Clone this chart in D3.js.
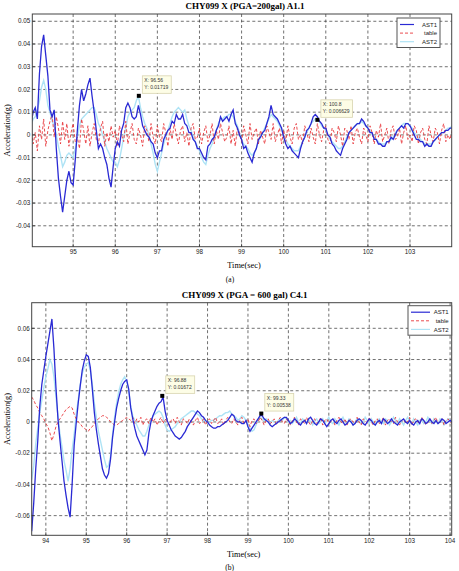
<!DOCTYPE html>
<html>
<head>
<meta charset="utf-8">
<script src="https://cdn.jsdelivr.net/npm/d3@7"></script>
<style>
  body { margin: 0; background: #fff; }
  svg { display: block; }
</style>
</head>
<body>
<svg id="fig" width="459" height="571"></svg>
<script>
// values are in milli-g, one sample every 0.05 s
const MG = 0.001;
const seriesNames = ["AST1", "table", "AST2"];
const seriesColors = { AST1: "#2a2ad4", table: "#e8383c", AST2: "#aee3f5" };

// ---- panel (a) ----
const aTitle = "CHY099 X (PGA=200gal) A1.1";
const aStart = 94.0, aStep = 0.05;
const aXDomain = [94.03, 103.99];
const aYDomain = [-0.0492, 0.0532];
const aXTicks = [95, 96, 97, 98, 99, 100, 101, 102, 103];
const aYTicks = [-0.04, -0.03, -0.02, -0.01, 0, 0.01, 0.02, 0.03, 0.04, 0.05];
const aYTickLabels = ["-0.04", "-0.03", "-0.02", "-0.01", "0", "0.01", "0.02", "0.03", "0.04", "0.05"];
const aAST1 = [
  5,10,12,7,27,39,44,35,26,11,8,11,-6,-19,-27,-34,-27,-20,-16,-21,
  -22,-11,2,13,20,15,18,22,25,17,10,2,-6,-4,-6,-10,-13,-19,-23,-14,
  -6,-3,-5,2,5,12,14,12,8,7,8,13,9,4,2,0,-1,-3,-4,-8,
  -10,-7,-7,-2,0,2,3,6,5,9,7,7,9,5,4,1,1,-2,-3,-6,
  -6,-8,-10,-11,-5,-4,-2,-1,2,4,8,6,7,8,6,9,11,5,3,0,
  -2,-6,-5,-8,-10,-12,-8,-6,-2,-1,1,2,5,8,13,9,8,7,5,3,
  -1,-4,-6,-5,-7,-8,-9,-10,-6,-3,-1,2,3,5,8,9,8,6,5,3,
  3,0,-1,-4,-5,-7,-8,-9,-6,-4,-2,1,2,3,4,5,5,7,6,4,
  3,1,1,-2,-2,-4,-4,-5,-5,-3,-3,-1,-2,0,2,3,4,3,5,5,
  4,2,0,-2,-2,-3,-3,-5,-4,-5,-5,-3,-2,-1,0,1,1,2,2,3,
  3
];
const aTable = [
  3,-4,1,-7,4,-2,7,-5,2,6,9,-1,8,3,-4,6,-2,5,-5,1,
  5,-3,-1,-6,7,2,-4,4,-5,1,5,-2,-4,3,6,-5,1,-3,4,-1,
  2,-5,4,0,-3,6,-4,1,5,-2,-4,3,0,-5,4,2,-3,5,-1,-4,
  4,-1,-3,5,1,-5,3,-2,5,0,-4,2,4,-3,1,-5,3,5,-2,-1,
  3,-4,1,4,-3,0,5,-4,2,-2,5,1,-3,-1,4,-4,2,-5,3,1,
  -3,4,0,-4,5,-2,1,3,-4,2,-1,-4,4,1,-2,5,-3,0,3,-4,
  2,-3,4,-1,-4,3,5,-2,0,-4,4,1,-3,3,-1,-4,5,0,-3,2,
  4,-2,-4,3,1,-3,4,0,-5,3,2,-2,4,-4,1,3,-1,-4,3,0,
  -3,4,1,-4,2,-1,5,-3,0,3,-4,2,4,-2,-1,3,-4,1,4,-2,
  0,-3,4,2,-4,1,3,-2,-4,4,0,-3,3,1,-4,2,5,-3,0,-2,
  2
];
const aAST2 = [
  4,7,8,11,15,21,24,20,13,10,6,4,0,-5,-9,-14,-12,-9,-8,-9,
  -10,-6,-1,4,7,8,9,10,11,12,12,9,5,3,0,-3,-6,-8,-10,-12,
  -12,-14,-11,-6,-1,3,8,10,11,12,15,17,12,8,5,3,0,-4,-8,-13,
  -16,-12,-8,-4,-1,2,5,8,10,11,12,11,10,11,7,4,2,-1,-3,-5,
  -7,-10,-12,-13,-9,-6,-4,-1,2,5,7,7,8,8,9,9,8,6,4,1,
  -2,-4,-5,-6,-8,-9,-8,-6,-3,-1,1,3,5,7,9,8,7,6,4,2,
  0,-2,-4,-5,-6,-7,-7,-7,-5,-3,-1,1,3,5,6,7,7,6,4,3,
  2,0,-2,-3,-4,-5,-6,-6,-5,-3,-1,1,2,3,4,5,5,6,5,4,
  3,2,0,-1,-2,-3,-4,-4,-4,-3,-3,-2,-1,1,2,3,4,5,5,5,
  4,3,1,0,-1,-2,-3,-4,-4,-4,-4,-3,-2,-1,0,1,1,2,3,3,
  4
];
const aTipX = [96.56, 100.8];
const aTipY = [0.01719, 0.006629];
const aTipText = [["X: 96.56", "Y: 0.01719"], ["X: 100.8", "Y: 0.006629"]];

// ---- panel (b) ----
const bTitle = "CHY099 X (PGA = 600 gal) C4.1";
const bStart = 93.65, bStep = 0.05;
const bXDomain = [93.65, 104.04];
const bYDomain = [-0.0726, 0.0764];
const bXTicks = [94, 95, 96, 97, 98, 99, 100, 101, 102, 103, 104];
const bYTicks = [-0.06, -0.04, -0.02, 0, 0.02, 0.04, 0.06];
const bYTickLabels = ["-0.06", "-0.04", "-0.02", "0", "0.02", "0.04", "0.06"];
const bAST1 = [
  -70,-52,-30,-12,10,24,33,42,50,58,
  66,47,22,2,-12,-25,-38,-47,-55,-61,
  -40,-15,-1,12,23,33,39,43,42,35,
  21,6,-5,-14,-22,-30,-34,-36,-33,-24,
  -10,0,9,15,20,24,26,27,21,9,
  2,-4,-9,-12,-15,-18,-21,-18,-7,0,
  4,7,10,12,13,16,7,1,-2,-5,
  -7,-9,-10,-11,-10,-8,-6,-3,-1,1,
  3,5,7,6,4,3,1,0,-2,-3,
  -4,-4,-3,-3,-2,-1,0,1,3,5,
  4,1,0,0,-1,-1,1,-3,-6,-4,
  -2,0,2,4,4,2,1,0,-2,-3,
  -2,-1,0,1,2,3,3,1,-1,0,
  2,1,-1,-2,0,1,-1,2,3,1,
  -1,-2,0,2,1,-1,-3,-1,1,2,
  0,-1,1,2,0,-2,-1,1,0,-2,
  -1,1,2,1,-1,-2,0,2,1,-1,
  -2,0,1,-1,2,1,-1,0,2,0,
  -1,-2,0,1,2,0,-1,1,-1,-2,
  0,1,-1,2,1,-1,0,2,0,-1,
  1,-1,0,2,1,-1,0,1,0
];
const bTable = [
  16,14,11,9,6,4,2,-1,-3,-7,
  -12,-8,-3,0,2,4,6,8,9,10,
  9,5,2,0,-1,-3,-4,-5,-6,-4,
  -3,-1,1,2,3,4,4,3,2,0,
  -1,-2,-2,-1,0,1,2,3,2,1,
  3,-1,2,0,3,-2,1,2,-1,3,
  0,2,-2,1,3,-1,2,0,-2,1,
  2,-1,3,0,-2,2,1,-1,2,0,
  -2,1,3,-1,0,2,-2,1,2,-1,
  1,3,-1,0,2,-2,1,3,0,-1,
  2,0,-2,1,3,-1,0,2,-3,1,
  2,-1,0,3,1,-2,1,2,-1,0,
  2,-2,1,3,0,-1,2,0,-2,1,
  3,0,-2,2,1,-1,3,0,-2,1,
  2,-1,0,3,-2,1,2,-1,0,2,
  -2,1,3,0,-1,2,-2,1,2,0,
  -1,3,0,-2,2,1,-1,3,0,-2,
  1,2,-1,0,3,-2,1,2,0,-1,
  3,0,-2,1,2,-1,0,3,-2,1,
  2,0,-1,3,1,-2,0,2,-1,1,
  3,-1,0,2,-2,1,2,0,-1
];
const bAST2 = [
  -37,-28,-14,-4,6,14,22,29,34,40,
  37,29,16,4,-8,-16,-25,-31,-38,-30,
  -18,-8,5,14,24,31,35,37,38,33,
  24,12,3,-6,-12,-18,-24,-29,-28,-22,
  -8,3,12,19,24,27,29,26,20,10,
  4,1,-2,-5,-7,-9,-9,-6,-2,1,
  4,5,6,7,6,3,-2,-5,-6,-5,
  -4,-3,-1,0,2,3,4,5,6,7,
  7,6,5,4,2,1,0,-1,0,1,
  1,2,3,4,4,5,6,6,7,5,
  4,3,1,2,4,3,1,-2,-4,-6,
  -5,-2,1,3,2,1,2,0,-1,1,
  0,-1,1,2,1,3,2,0,1,-1,
  1,3,0,-1,2,1,-1,2,0,-2,
  1,2,-1,0,2,-1,1,3,0,-1,
  2,0,-2,1,3,0,-1,2,1,-2,
  0,2,1,-1,0,3,1,-1,2,0,
  -2,1,2,0,-1,2,1,-2,0,3,
  1,-1,2,0,-2,1,3,0,-1,2,
  0,-2,1,2,-1,0,3,1,-1,2,
  0,-1,2,1,-2,0,2,1,0
];
const bTipX = [96.88, 99.33];
const bTipY = [0.01672, 0.00538];
const bTipText = [["X: 96.88", "Y: 0.01672"], ["X: 99.33", "Y: 0.00538"]];

const svg = d3.select("#fig");

const drawPanel = (p) => {
  const g = svg.append("g");
  const x = d3.scaleLinear().domain(p.xDomain).range([p.left, p.right]);
  const y = d3.scaleLinear().domain(p.yDomain).range([p.bottom, p.top]);

  // clip
  const clipId = "clip" + p.id;
  svg.append("clipPath").attr("id", clipId)
    .append("rect")
    .attr("x", p.left).attr("y", p.top)
    .attr("width", p.right - p.left).attr("height", p.bottom - p.top);

  // grid
  g.selectAll(".gx").data(p.xTicks).enter().append("line")
    .attr("x1", d => x(d)).attr("x2", d => x(d))
    .attr("y1", p.top).attr("y2", p.bottom)
    .attr("stroke", "#333").attr("stroke-width", 0.7)
    .attr("stroke-dasharray", "3,2.5");
  g.selectAll(".gy").data(p.yTicks).enter().append("line")
    .attr("x1", p.left).attr("x2", p.right)
    .attr("y1", d => y(d)).attr("y2", d => y(d))
    .attr("stroke", "#333").attr("stroke-width", 0.7)
    .attr("stroke-dasharray", "3,2.5");

  // traces
  const mkLine = (start, step) => d3.line()
    .x((d, i) => x(start + i * step))
    .y(d => y(d * MG));
  const traces = g.append("g").attr("clip-path", "url(#" + clipId + ")");
  traces.append("path").datum(p.AST2)
    .attr("d", mkLine(p.start, p.step))
    .attr("fill", "none").attr("stroke", seriesColors.AST2).attr("stroke-width", 1.4);
  traces.append("path").datum(p.table)
    .attr("d", mkLine(p.start, p.step))
    .attr("fill", "none").attr("stroke", seriesColors.table).attr("stroke-width", 0.9)
    .attr("stroke-dasharray", "3,2");
  traces.append("path").datum(p.AST1)
    .attr("d", mkLine(p.start, p.step))
    .attr("fill", "none").attr("stroke", seriesColors.AST1).attr("stroke-width", 1.3);

  // axes box
  g.append("rect")
    .attr("x", p.left).attr("y", p.top)
    .attr("width", p.right - p.left).attr("height", p.bottom - p.top)
    .attr("fill", "none").attr("stroke", "#444").attr("stroke-width", 1);

  // ticks (inside, MATLAB style)
  g.selectAll(".tx").data(p.xTicks).enter().append("line")
    .attr("x1", d => x(d)).attr("x2", d => x(d))
    .attr("y1", p.bottom).attr("y2", p.bottom - 3)
    .attr("stroke", "#333").attr("stroke-width", 0.8);
  g.selectAll(".ty").data(p.yTicks).enter().append("line")
    .attr("x1", p.left).attr("x2", p.left + 3)
    .attr("y1", d => y(d)).attr("y2", d => y(d))
    .attr("stroke", "#333").attr("stroke-width", 0.8);

  // tick labels
  g.selectAll(".lx").data(p.xTicks).enter().append("text")
    .attr("x", d => x(d)).attr("y", p.bottom + 7.5)
    .attr("text-anchor", "middle")
    .attr("font-family", "Liberation Sans, Arial, sans-serif")
    .attr("font-size", "6.3px").attr("fill", "#222")
    .text(d => d);
  g.selectAll(".ly").data(p.yTicks).enter().append("text")
    .attr("x", p.left - 2).attr("y", d => y(d) + 2.2)
    .attr("text-anchor", "end")
    .attr("font-family", "Liberation Sans, Arial, sans-serif")
    .attr("font-size", "6.3px").attr("fill", "#222")
    .text((d, i) => p.yTickLabels[i]);

  // titles and labels
  const cx = (p.left + p.right) / 2;
  g.append("text")
    .attr("x", cx + 3).attr("y", p.top - 5)
    .attr("text-anchor", "middle")
    .attr("font-family", "Liberation Serif, Times New Roman, serif")
    .attr("font-weight", "bold").attr("font-size", "9px")
    .text(p.title);
  g.append("text")
    .attr("x", cx + 2).attr("y", p.bottom + 21.5)
    .attr("text-anchor", "middle")
    .attr("font-family", "Liberation Serif, Times New Roman, serif")
    .attr("font-size", "8.3px")
    .text("Time(sec)");
  g.append("text")
    .attr("x", cx - 12).attr("y", p.bottom + 35)
    .attr("text-anchor", "middle")
    .attr("font-family", "Liberation Serif, Times New Roman, serif")
    .attr("font-size", "7.5px")
    .text(p.caption);
  g.append("text")
    .attr("transform", `translate(9.5,${(p.top + p.bottom) / 2}) rotate(-90)`)
    .attr("text-anchor", "middle")
    .attr("font-family", "Liberation Serif, Times New Roman, serif")
    .attr("font-size", "8.3px")
    .text("Acceleration(g)");

  // data tips
  p.tipX.forEach((tx, i) => {
    const mx = x(tx), my = y(p.tipY[i]);
    const tip = g.append("g");
    const rect = tip.append("rect")
      .attr("x", mx + 3.5).attr("y", my - 20)
      .attr("height", 17.5)
      .attr("fill", "#fdfde6").attr("stroke", "#d8d4b0").attr("stroke-width", 0.8);
    let w = 0;
    p.tipText[i].forEach((s, k) => {
      const t = tip.append("text")
        .attr("x", mx + 5.5).attr("y", my - 13.5 + k * 7)
        .attr("font-family", "Liberation Sans, Arial, sans-serif")
        .attr("font-size", "5px").attr("fill", "#333")
        .text(s);
      w = Math.max(w, t.node().getComputedTextLength());
    });
    rect.attr("width", w + 5);
    tip.append("rect")
      .attr("x", mx - 2).attr("y", my - 2)
      .attr("width", 4).attr("height", 4)
      .attr("fill", "#000");
  });

  // legend
  const lg = g.append("g");
  lg.append("rect")
    .attr("x", p.legX).attr("y", p.legY)
    .attr("width", p.legW).attr("height", 29.5)
    .attr("fill", "#fff").attr("stroke", "#555").attr("stroke-width", 1);
  seriesNames.forEach((name, i) => {
    const yy = p.legY + 6.5 + i * 8.6;
    lg.append("line")
      .attr("x1", p.legX + 3).attr("x2", p.legX + p.legLine)
      .attr("y1", yy).attr("y2", yy)
      .attr("stroke", seriesColors[name])
      .attr("stroke-width", name === "table" ? 0.9 : 1.2)
      .attr("stroke-dasharray", name === "table" ? "3,2" : null);
    lg.append("text")
      .attr("x", p.legX + p.legW - 3).attr("y", yy + 2.1)
      .attr("text-anchor", "end")
      .attr("font-family", "Liberation Sans, Arial, sans-serif")
      .attr("font-size", "6px").attr("fill", "#222")
      .text(name);
  });
};

drawPanel({
  id: "a", title: aTitle, caption: "(a)",
  left: 32.3, right: 451.7, top: 14, bottom: 246.7,
  xDomain: aXDomain, yDomain: aYDomain, xTicks: aXTicks, yTicks: aYTicks, yTickLabels: aYTickLabels,
  start: aStart, step: aStep, AST1: aAST1, table: aTable, AST2: aAST2,
  tipX: aTipX, tipY: aTipY, tipText: aTipText,
  legX: 397, legY: 18, legW: 43, legLine: 17
});
drawPanel({
  id: "b", title: bTitle, caption: "(b)",
  left: 31.7, right: 451.7, top: 302.7, bottom: 535.3,
  xDomain: bXDomain, yDomain: bYDomain, xTicks: bXTicks, yTicks: bYTicks, yTickLabels: bYTickLabels,
  start: bStart, step: bStep, AST1: bAST1, table: bTable, AST2: bAST2,
  tipX: bTipX, tipY: bTipY, tipText: bTipText,
  legX: 408, legY: 305.7, legW: 43.7, legLine: 22
});
</script>
</body>
</html>
